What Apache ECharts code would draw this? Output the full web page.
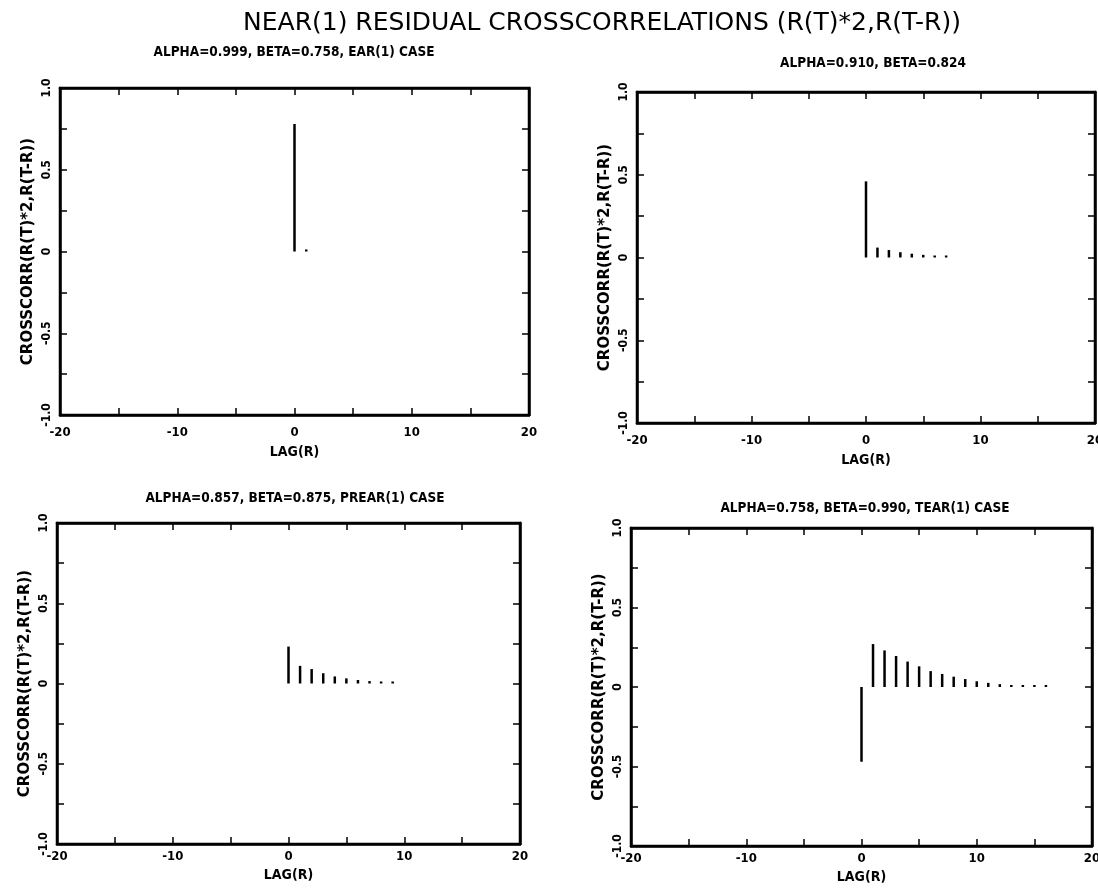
<!DOCTYPE html>
<html>
<head>
<meta charset="utf-8">
<script src="https://cdn.jsdelivr.net/npm/echarts@6/dist/echarts.min.js"></script>
<style>
  html, body { margin: 0; padding: 0; background: #fff; }
  #chart { width: 1098px; height: 888px; }
</style>
</head>
<body>
<div id="chart"></div>
<script>
// lags and crosscorrelation values
const lags1 = [0, 1];
const vals1 = [0.78, 0.006];
const lags2 = [0, 1, 2, 3, 4, 5, 6, 7];
const vals2 = [0.46, 0.06, 0.045, 0.032, 0.023, 0.016, 0.011, 0.007];
const lags3 = [0, 1, 2, 3, 4, 5, 6, 7, 8, 9];
const vals3 = [0.23, 0.11, 0.09, 0.064, 0.044, 0.032, 0.022, 0.015, 0.01, 0.006];
const lags4 = [0, 1, 2, 3, 4, 5, 6, 7, 8, 9, 10, 11, 12, 13, 14, 15, 16];
const vals4 = [-0.47, 0.27, 0.23, 0.195, 0.16, 0.13, 0.1, 0.082, 0.065, 0.05, 0.036, 0.026, 0.018, 0.012, 0.008, 0.005, 0.003];

const panelTitles = [
  'ALPHA=0.999, BETA=0.758, EAR(1) CASE',
  'ALPHA=0.910, BETA=0.824',
  'ALPHA=0.857, BETA=0.875, PREAR(1) CASE',
  'ALPHA=0.758, BETA=0.990, TEAR(1) CASE'
];
const mainTitle = 'NEAR(1) RESIDUAL CROSSCORRELATIONS (R(T)*2,R(T-R))';
const yName = 'CROSSCORR(R(T)*2,R(T-R))';
const xName = 'LAG(R)';

const COND = "'DejaVu Sans Condensed', 'Liberation Sans Narrow', sans-serif";
const WIDE = "'DejaVu Sans', sans-serif";

// frame boxes of the four plots (px)
const boxes = [
  { left: 60, top: 88, right: 569, bottom: 473 },
  { left: 637, top: 92, right: 3, bottom: 465 },
  { left: 57, top: 523, right: 578, bottom: 44 },
  { left: 631, top: 528, right: 6, bottom: 42 }
];
const titlePos = [
  { x: 289, y: 40 },
  { x: 868, y: 51 },
  { x: 290, y: 486 },
  { x: 860, y: 496 }
];
// label margin and name gap for the x axis of each panel
const xGaps = [[11, 30], [11, 30], [6, 24], [6, 24]];
const data = [[lags1, vals1], [lags2, vals2], [lags3, vals3], [lags4, vals4]];

const pairs = (lags, vals) => lags.map((l, i) => [l, vals[i]]);

const grid = [], xAxis = [], yAxis = [], series = [];
const title = [{
  text: mainTitle,
  left: 597, top: 6, textAlign: 'center',
  textStyle: { fontFamily: WIDE, fontSize: 25, fontWeight: 'normal', color: '#000' }
}];

const xLab = v => (v % 10 === 0 ? String(v) : '');
const yLab = v => {
  const r = Math.round(v * 2);
  if (Math.abs(v * 2 - r) > 1e-9) return '';
  return v === 0 ? '0' : v.toFixed(1);
};

boxes.forEach((b, i) => {
  grid.push(Object.assign({
    show: true, borderColor: '#000', borderWidth: 2.5,
    containLabel: false, outerBoundsMode: 'none'
  }, b));
  title.push({
    text: panelTitles[i],
    left: titlePos[i].x, top: titlePos[i].y, textAlign: 'center',
    textStyle: { fontFamily: COND, fontSize: 13.5, fontWeight: 'bold', color: '#000' }
  });
  const tick = { show: true, inside: true, length: 7, lineStyle: { color: '#000', width: 1.5 } };
  xAxis.push({
    gridIndex: i, type: 'value', min: -20, max: 20, interval: 5,
    name: xName, nameLocation: 'middle', nameGap: xGaps[i][1],
    nameTextStyle: { fontFamily: COND, fontSize: 14, fontWeight: 'bold', color: '#000' },
    axisLine: { show: true, onZero: false, lineStyle: { color: '#000', width: 2.5 } },
    axisTick: tick,
    axisLabel: { formatter: xLab, fontFamily: COND, fontSize: 13, fontWeight: 'bold', color: '#000', margin: xGaps[i][0] },
    splitLine: { show: false }
  });
  xAxis.push({
    gridIndex: i, type: 'value', min: -20, max: 20, interval: 5, position: 'top',
    axisLine: { show: true, onZero: false, lineStyle: { color: '#000', width: 2.5 } },
    axisTick: tick, axisLabel: { show: false }, splitLine: { show: false }
  });
  yAxis.push({
    gridIndex: i, type: 'value', min: -1, max: 1, interval: 0.25,
    name: yName, nameLocation: 'middle', nameGap: 24,
    nameTextStyle: { fontFamily: WIDE, fontSize: 15, fontWeight: 'bold', color: '#000' },
    axisLine: { show: true, onZero: false, lineStyle: { color: '#000', width: 2.5 } },
    axisTick: tick,
    axisLabel: { formatter: yLab, rotate: 90, fontFamily: COND, fontSize: 12, fontWeight: 'bold', color: '#000', margin: 7 },
    splitLine: { show: false }
  });
  yAxis.push({
    gridIndex: i, type: 'value', min: -1, max: 1, interval: 0.25, position: 'right',
    axisLine: { show: true, onZero: false, lineStyle: { color: '#000', width: 2.5 } },
    axisTick: tick, axisLabel: { show: false }, splitLine: { show: false }
  });
  series.push({
    type: 'bar',
    xAxisIndex: 2 * i, yAxisIndex: 2 * i,
    data: pairs(data[i][0], data[i][1]),
    barWidth: 2.5, barMinHeight: 2,
    itemStyle: { color: '#000' },
    silent: true
  });
});

const chart = echarts.init(document.getElementById('chart'));
chart.setOption({
  backgroundColor: '#fff',
  animation: false,
  title: title,
  grid: grid,
  xAxis: xAxis,
  yAxis: yAxis,
  series: series
});
</script>
</body>
</html>
